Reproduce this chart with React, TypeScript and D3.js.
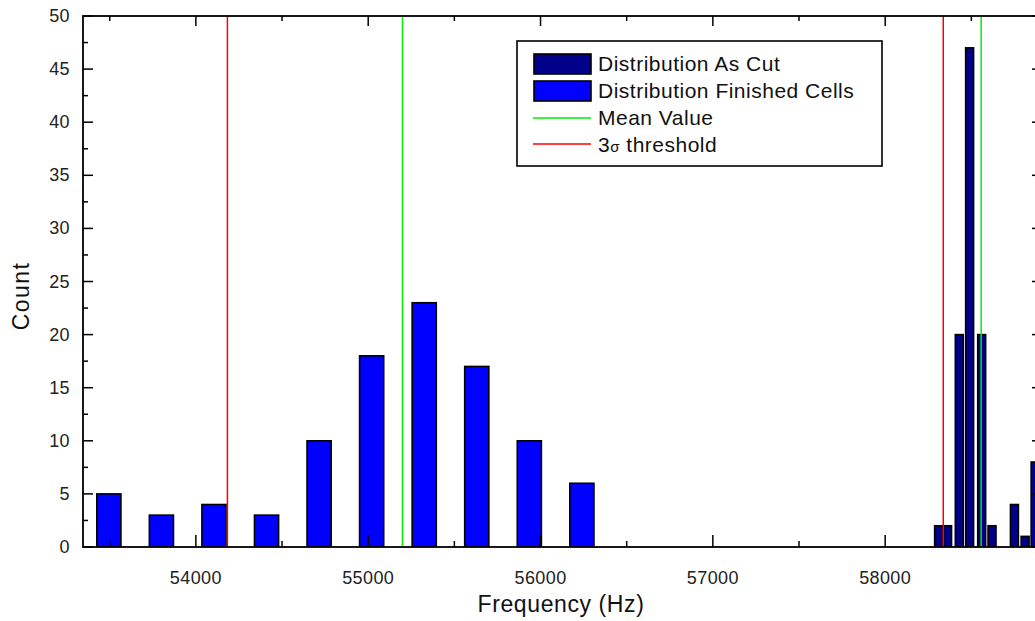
import React from "react";
import * as d3 from "d3";

// ---- data ----
const finishedFreq = [53495, 53800, 54105, 54410, 54715, 55020, 55325, 55630, 55935, 56240];
const finishedCount = [5, 3, 4, 3, 10, 18, 23, 17, 10, 6];
const cutFreq = [58310, 58362, 58430, 58490, 58560, 58620, 58750, 58812, 58870];
const cutCount = [2, 2, 20, 47, 20, 2, 4, 1, 8];
const meanValues = [55199, 58557];
const thresholdValues = [54183, 58337];
const xTicks = [54000, 55000, 56000, 57000, 58000];
const yTicks = [0, 5, 10, 15, 20, 25, 30, 35, 40, 45, 50];
const legendLabels = ["Distribution As Cut", "Distribution Finished Cells", "Mean Value", "threshold"];

const W = 1035;
const H = 621;
const L = 83, R = 1042, T = 16, B = 547;
const FONT = "'Liberation Sans', Arial, Helvetica, sans-serif";

export default function App() {
  const x = d3.scaleLinear().domain([53345, 58910]).range([L, R]);
  const y = d3.scaleLinear().domain([0, 50]).range([B, T]);
  const finishedW = 140;
  const cutW = 46;

  const xMinor = d3.range(53500, 58910, 500).filter((v) => v % 1000 !== 0);
  const yMinor = d3.range(2.5, 50, 5);

  const finished = finishedFreq.map((f, i) => ({ f, c: finishedCount[i] }));
  const cut = cutFreq.map((f, i) => ({ f, c: cutCount[i] }));

  const majLen = 10, minLen = 5;

  return (
    <svg width={W} height={H} style={{ position: "absolute", left: 0, top: 0, background: "#fff" }}>
      <defs>
        <clipPath id="plot">
          <rect x={L} y={T} width={R - L} height={B - T} />
        </clipPath>
      </defs>
      <g clipPath="url(#plot)">
        {finished.map((d, i) => (
          <rect key={"f" + i} x={x(d.f - finishedW / 2)} y={y(d.c)} width={x(d.f + finishedW / 2) - x(d.f - finishedW / 2)} height={y(0) - y(d.c)}
            fill="#0000ff" stroke="#000" strokeWidth={1.6} />
        ))}
        {cut.map((d, i) => (
          <rect key={"c" + i} x={x(d.f - cutW / 2)} y={y(d.c)} width={x(d.f + cutW / 2) - x(d.f - cutW / 2)} height={y(0) - y(d.c)}
            fill="#00008b" stroke="#000" strokeWidth={1.6} />
        ))}
        {thresholdValues.map((v, i) => (
          <line key={"t" + i} x1={x(v)} x2={x(v)} y1={T} y2={B} stroke="#ff0000" strokeWidth={1.5} />
        ))}
        {meanValues.map((v, i) => (
          <line key={"m" + i} x1={x(v)} x2={x(v)} y1={T} y2={B} stroke="#00ee00" strokeWidth={1.5} />
        ))}
      </g>
      {/* frame */}
      <rect x={L} y={T} width={R - L} height={B - T} fill="none" stroke="#000" strokeWidth={1.8} />
      {/* x ticks */}
      {xTicks.map((v) => (
        <g key={"xt" + v}>
          <line x1={x(v)} x2={x(v)} y1={B} y2={B - majLen - 2} stroke="#000" strokeWidth={1.5} />
          <line x1={x(v)} x2={x(v)} y1={T} y2={T + majLen} stroke="#000" strokeWidth={1.5} />
          <text x={x(v)} y={B + 37} textAnchor="middle" fontSize={18} letterSpacing={0.4} fontFamily={FONT} fill="#222">{v}</text>
        </g>
      ))}
      {xMinor.map((v) => (
        <g key={"xm" + v}>
          <line x1={x(v)} x2={x(v)} y1={B} y2={B - minLen - 1} stroke="#000" strokeWidth={1.5} />
          <line x1={x(v)} x2={x(v)} y1={T} y2={T + minLen} stroke="#000" strokeWidth={1.5} />
        </g>
      ))}
      {/* y ticks */}
      {yTicks.map((v) => (
        <g key={"yt" + v}>
          <line x1={L} x2={L + majLen} y1={y(v)} y2={y(v)} stroke="#000" strokeWidth={1.5} />
          <line x1={R} x2={R - majLen} y1={y(v)} y2={y(v)} stroke="#000" strokeWidth={1.5} />
          <text x={L - 13} y={y(v) + 6} textAnchor="end" fontSize={18} letterSpacing={0.4} fontFamily={FONT} fill="#222">{v}</text>
        </g>
      ))}
      {yMinor.map((v) => (
        <g key={"ym" + v}>
          <line x1={L} x2={L + minLen} y1={y(v)} y2={y(v)} stroke="#000" strokeWidth={1.5} />
          <line x1={R} x2={R - minLen} y1={y(v)} y2={y(v)} stroke="#000" strokeWidth={1.5} />
        </g>
      ))}
      {/* axis titles */}
      <text x={561} y={612} textAnchor="middle" fontSize={23} letterSpacing={0.6} fontFamily={FONT} fill="#111">Frequency (Hz)</text>
      <text transform="translate(29, 296) rotate(-90)" textAnchor="middle" fontSize={23} letterSpacing={1.4} fontFamily={FONT} fill="#111">Count</text>
      {/* legend */}
      <g>
        <rect x={517} y={41} width={365} height={125} fill="#fff" stroke="#000" strokeWidth={1.6} />
        <rect x={534} y={54} width={57} height={20} fill="#00008b" stroke="#000" strokeWidth={1.6} />
        <rect x={534} y={81} width={57} height={20} fill="#0000ff" stroke="#000" strokeWidth={1.6} />
        <line x1={533} x2={591} y1={118} y2={118} stroke="#00ee00" strokeWidth={1.5} />
        <line x1={533} x2={591} y1={144} y2={144} stroke="#ff0000" strokeWidth={1.5} />
        {legendLabels.map((t, i) => (
          <text key={t} x={598} y={71 + i * 27} fontSize={21} letterSpacing={0.5} fontFamily={FONT} fill="#111">
            {i === 3 ? (<><tspan>3</tspan><tspan fontSize={15}>σ</tspan><tspan> {t}</tspan></>) : t}
          </text>
        ))}
      </g>
    </svg>
  );
}
